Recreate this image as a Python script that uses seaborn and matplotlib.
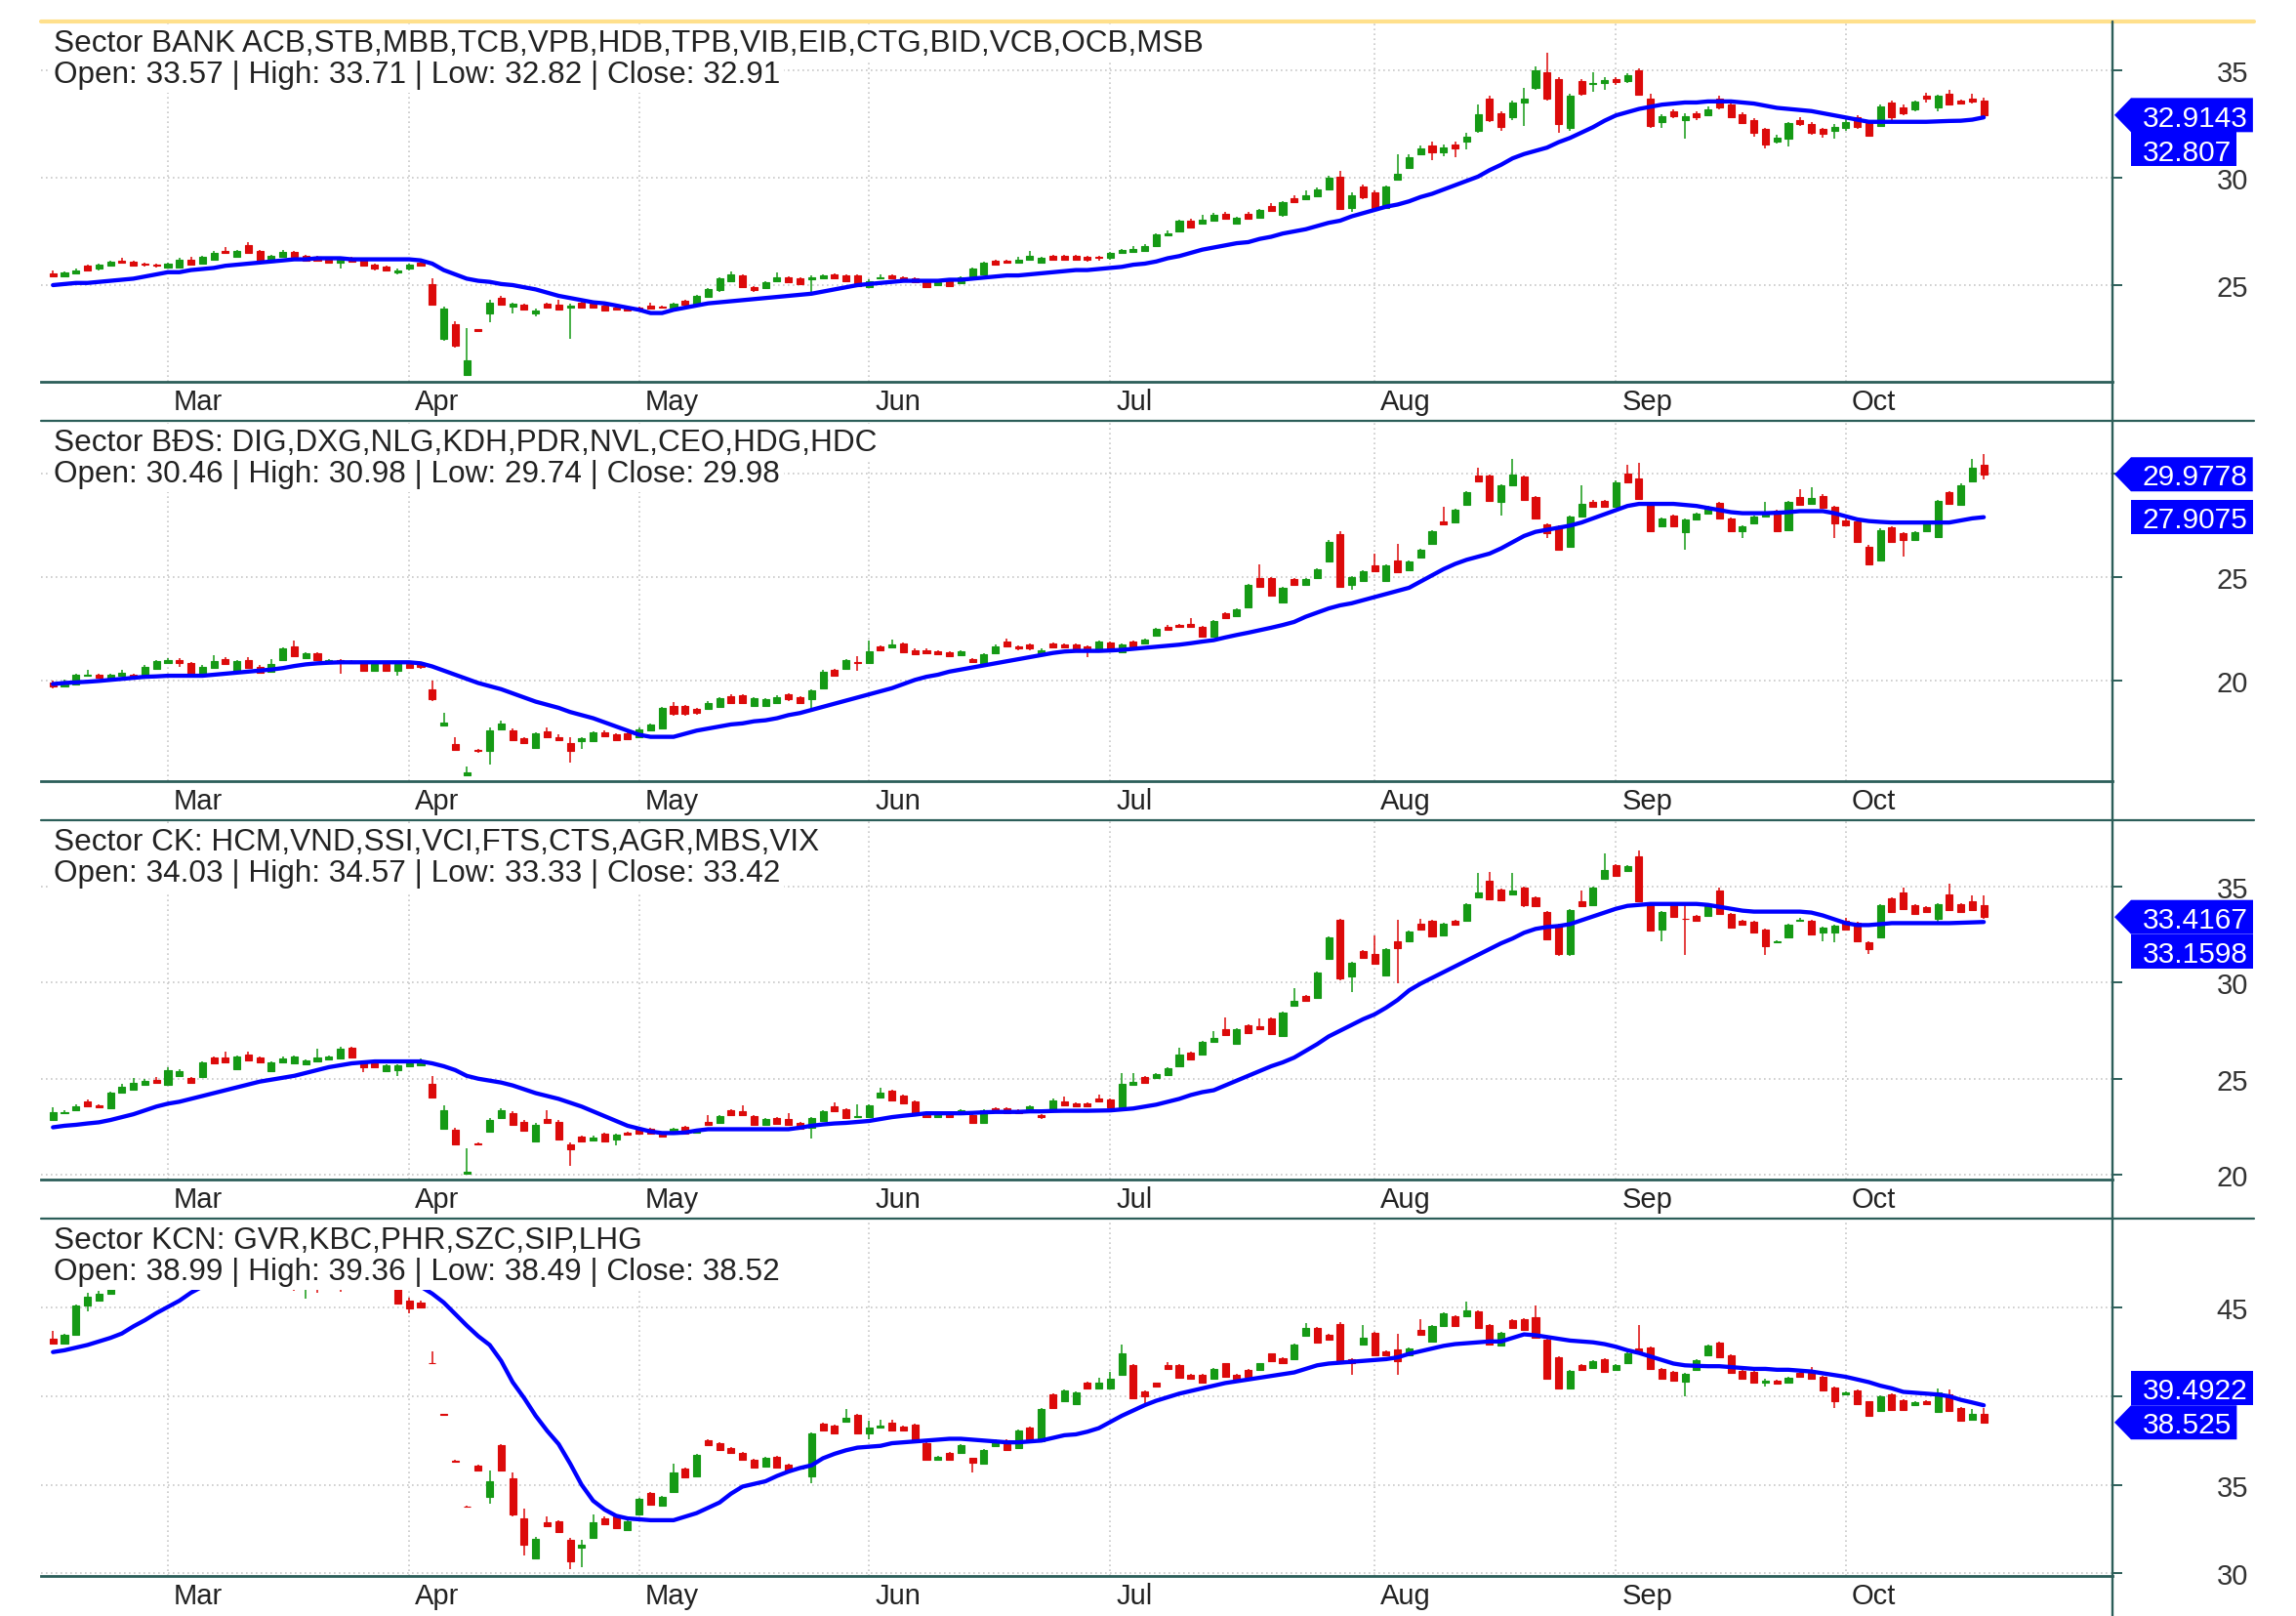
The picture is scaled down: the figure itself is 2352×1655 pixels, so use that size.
import matplotlib
matplotlib.use("Agg")
import matplotlib.pyplot as plt
import matplotlib.transforms as mtransforms
import numpy as np
import seaborn as sns
from matplotlib.lines import Line2D
from matplotlib.patches import Polygon


W, H = 2352, 1656
DPI = 100

MONTH_NAMES = ["Feb", "Mar", "Apr", "May", "Jun", "Jul", "Aug", "Sep", "Oct"]
MONTH_DAYS = [10, 21, 20, 20, 21, 23, 21, 20, 13]

TITLES = [
    "Sector BANK ACB,STB,MBB,TCB,VPB,HDB,TPB,VIB,EIB,CTG,BID,VCB,OCB,MSB",
    "Sector BĐS: DIG,DXG,NLG,KDH,PDR,NVL,CEO,HDG,HDC",
    "Sector CK: HCM,VND,SSI,VCI,FTS,CTS,AGR,MBS,VIX",
    "Sector KCN: GVR,KBC,PHR,SZC,SIP,LHG",
]

# ---- BANK ----
BANK_OPEN = [
    25.55, 25.40, 25.55, 25.90, 25.75, 25.90, 26.15, 26.10, 26.00, 25.95,
    25.80, 25.80, 26.20, 26.00, 26.20, 26.60, 26.30, 26.85, 26.60, 26.10,
    26.30, 26.55, 26.35, 26.30, 26.20, 26.05, 26.25, 26.20, 25.95, 25.85,
    25.60, 25.75, 26.05, 25.05, 22.50, 23.20, 20.80, 22.95, 23.70, 24.40,
    24.00, 24.10, 23.70, 24.15, 24.10, 23.95, 24.20, 24.15, 24.05, 23.95,
    23.95, 23.95, 24.05, 24.00, 23.95, 24.25, 24.10, 24.45, 24.75, 25.20,
    25.45, 24.90, 24.85, 25.20, 25.35, 25.30, 25.25, 25.30, 25.50, 25.45,
    25.45, 24.90, 25.30, 25.45, 25.35, 25.30, 25.15, 25.00, 25.20, 25.10,
    25.30, 25.50, 26.15, 26.15, 26.05, 26.20, 26.05, 26.35, 26.35, 26.35,
    26.30, 26.30, 26.25, 26.50, 26.55, 26.60, 26.80, 27.30, 27.50, 28.00,
    27.85, 28.00, 28.30, 27.85, 28.30, 28.15, 28.70, 28.25, 29.05, 29.00,
    29.15, 29.45, 30.05, 28.60, 29.60, 29.30, 28.60, 29.90, 30.45, 31.10,
    31.50, 31.20, 31.55, 31.70, 32.20, 33.70, 33.00, 32.80, 33.50, 34.20,
    34.90, 34.60, 32.30, 34.50, 34.35, 34.40, 34.60, 34.50, 35.00, 33.70,
    32.60, 33.10, 32.70, 33.00, 32.90, 33.70, 33.40, 32.95, 32.70, 32.25,
    31.70, 31.80, 32.70, 32.50, 32.25, 32.20, 32.30, 32.80, 32.55, 32.40,
    33.50, 33.25, 33.20, 33.80, 33.25, 33.90, 33.60, 33.70, 33.57,
]
BANK_CLOSE = [
    25.40, 25.60, 25.70, 25.70, 25.95, 26.10, 26.05, 25.90, 25.95, 25.90,
    26.00, 26.20, 25.95, 26.30, 26.50, 26.50, 26.60, 26.50, 26.10, 26.35,
    26.55, 26.30, 26.15, 26.15, 26.05, 26.20, 26.10, 25.90, 25.75, 25.70,
    25.70, 25.95, 25.90, 24.10, 23.90, 22.20, 21.50, 22.85, 24.20, 24.10,
    24.15, 23.85, 23.80, 23.95, 23.85, 24.05, 23.95, 23.95, 23.80, 23.85,
    23.80, 23.90, 23.90, 23.95, 24.15, 24.10, 24.50, 24.80, 25.30, 25.50,
    24.90, 24.75, 25.15, 25.35, 25.15, 25.05, 25.35, 25.45, 25.30, 25.20,
    24.95, 25.20, 25.35, 25.30, 25.20, 25.15, 24.90, 25.15, 24.95, 25.35,
    25.75, 26.05, 25.95, 26.05, 26.20, 26.35, 26.25, 26.20, 26.20, 26.20,
    26.20, 26.25, 26.50, 26.65, 26.70, 26.80, 27.35, 27.40, 28.00, 27.70,
    28.05, 28.25, 28.10, 28.15, 28.10, 28.50, 28.45, 28.85, 28.85, 29.20,
    29.45, 30.00, 28.55, 29.20, 29.10, 28.60, 29.60, 30.20, 30.95, 31.35,
    31.20, 31.40, 31.35, 31.90, 32.95, 32.70, 32.35, 33.50, 33.70, 35.00,
    33.70, 32.50, 33.80, 33.90, 34.40, 34.55, 34.45, 34.75, 33.85, 32.40,
    32.85, 32.85, 32.85, 32.80, 33.20, 33.25, 32.80, 32.55, 32.10, 31.55,
    31.85, 32.55, 32.50, 32.10, 32.05, 32.35, 32.60, 32.35, 31.95, 33.30,
    32.80, 33.00, 33.55, 33.70, 33.80, 33.40, 33.45, 33.55, 32.9143,
]
BANK_HIGH = [
    25.70, 25.65, 25.75, 25.95, 26.00, 26.15, 26.25, 26.15, 26.05, 26.00,
    26.05, 26.25, 26.30, 26.35, 26.60, 26.75, 26.65, 27.00, 26.65, 26.40,
    26.65, 26.60, 26.40, 26.35, 26.25, 26.25, 26.30, 26.25, 26.00, 25.90,
    25.75, 26.00, 26.10, 25.30, 24.00, 23.30, 23.00, 22.95, 24.30, 24.50,
    24.20, 24.15, 23.90, 24.20, 24.30, 24.15, 24.25, 24.20, 24.10, 24.00,
    24.00, 24.00, 24.20, 24.05, 24.20, 24.30, 24.55, 24.85, 25.35, 25.65,
    25.50, 24.95, 25.20, 25.60, 25.40, 25.35, 25.45, 25.50, 25.55, 25.50,
    25.50, 25.25, 25.50, 25.50, 25.40, 25.35, 25.20, 25.20, 25.25, 25.40,
    25.80, 26.10, 26.20, 26.20, 26.30, 26.60, 26.30, 26.40, 26.40, 26.40,
    26.35, 26.35, 26.55, 26.70, 26.80, 26.90, 27.40, 27.55, 28.05, 28.10,
    28.25, 28.35, 28.40, 28.20, 28.40, 28.55, 28.80, 28.90, 29.20, 29.40,
    29.55, 30.10, 30.30, 29.30, 29.70, 29.40, 29.65, 31.10, 31.10, 31.50,
    31.70, 31.55, 31.70, 32.10, 33.40, 33.80, 33.10, 33.60, 34.20, 35.20,
    35.80, 34.70, 33.90, 34.60, 34.90, 34.70, 34.70, 34.85, 35.10, 33.90,
    32.95, 33.20, 33.00, 33.10, 33.30, 33.80, 33.50, 33.05, 32.75, 32.30,
    32.00, 32.60, 32.80, 32.60, 32.30, 32.50, 32.75, 32.90, 32.60, 33.40,
    33.60, 33.40, 33.60, 33.95, 33.85, 34.10, 33.65, 33.90, 33.71,
]
BANK_LOW = [
    25.35, 25.35, 25.50, 25.65, 25.70, 25.85, 26.00, 25.85, 25.85, 25.80,
    25.75, 25.75, 25.90, 25.95, 26.15, 26.45, 26.25, 26.45, 26.05, 26.05,
    26.25, 26.25, 26.10, 26.10, 26.00, 25.75, 26.05, 25.85, 25.70, 25.65,
    25.50, 25.70, 25.85, 24.05, 22.40, 22.10, 20.75, 22.85, 23.25, 24.05,
    23.70, 23.80, 23.55, 23.90, 23.80, 22.50, 23.90, 23.90, 23.75, 23.80,
    23.75, 23.85, 23.85, 23.90, 23.90, 24.05, 24.05, 24.40, 24.70, 25.15,
    24.85, 24.70, 24.80, 25.15, 25.10, 25.00, 24.70, 25.25, 25.25, 25.15,
    24.90, 24.85, 25.25, 25.25, 25.15, 25.10, 24.85, 24.95, 24.90, 25.05,
    25.25, 25.45, 25.90, 26.00, 26.00, 26.15, 26.00, 26.15, 26.15, 26.15,
    26.10, 26.15, 26.20, 26.45, 26.50, 26.55, 26.75, 27.25, 27.45, 27.65,
    27.80, 27.95, 28.05, 27.80, 28.05, 28.10, 28.40, 28.20, 28.80, 28.95,
    29.10, 29.40, 28.50, 28.40, 29.00, 28.50, 28.55, 29.85, 30.40, 31.05,
    30.80, 31.00, 30.95, 31.30, 32.10, 32.60, 32.20, 32.70, 32.40, 34.10,
    33.60, 32.10, 32.20, 33.80, 34.00, 34.10, 34.30, 34.40, 33.80, 32.30,
    32.30, 32.75, 31.80, 32.70, 32.85, 33.20, 32.75, 32.50, 31.90, 31.35,
    31.60, 31.45, 32.40, 32.00, 31.85, 31.80, 32.20, 32.25, 31.90, 32.35,
    32.70, 32.90, 33.10, 33.50, 33.10, 33.35, 33.40, 33.45, 32.82,
]
BANK_MA = [
    25.00, 25.05, 25.10, 25.10, 25.15, 25.20, 25.25, 25.30, 25.40, 25.50,
    25.60, 25.60, 25.70, 25.75, 25.80, 25.90, 25.95, 26.00, 26.05, 26.10,
    26.15, 26.20, 26.20, 26.25, 26.25, 26.25, 26.20, 26.20, 26.20, 26.20,
    26.20, 26.20, 26.15, 26.00, 25.70, 25.50, 25.30, 25.20, 25.15, 25.05,
    25.00, 24.90, 24.80, 24.65, 24.50, 24.40, 24.30, 24.20, 24.15, 24.05,
    23.95, 23.85, 23.70, 23.70, 23.85, 23.95, 24.05, 24.15, 24.20, 24.25,
    24.30, 24.35, 24.40, 24.45, 24.50, 24.55, 24.60, 24.70, 24.80, 24.90,
    25.00, 25.05, 25.10, 25.15, 25.20, 25.20, 25.20, 25.20, 25.25, 25.25,
    25.30, 25.35, 25.40, 25.45, 25.45, 25.50, 25.55, 25.60, 25.65, 25.70,
    25.70, 25.75, 25.80, 25.85, 25.95, 26.00, 26.10, 26.25, 26.35, 26.50,
    26.65, 26.75, 26.85, 26.95, 27.00, 27.15, 27.25, 27.40, 27.50, 27.60,
    27.75, 27.90, 28.00, 28.20, 28.35, 28.50, 28.65, 28.75, 28.90, 29.10,
    29.25, 29.45, 29.65, 29.85, 30.05, 30.35, 30.60, 30.90, 31.10, 31.25,
    31.40, 31.65, 31.85, 32.10, 32.35, 32.65, 32.90, 33.05, 33.20, 33.30,
    33.40, 33.45, 33.50, 33.50, 33.55, 33.55, 33.55, 33.50, 33.45, 33.35,
    33.25, 33.20, 33.15, 33.10, 33.00, 32.90, 32.80, 32.70, 32.60, 32.60,
    32.60, 32.60, 32.60, 32.60, 32.62, 32.64, 32.65, 32.70, 32.807,
]

# ---- BDS ----
BDS_OPEN = [
    19.90, 19.75, 19.85, 20.25, 20.30, 20.10, 20.25, 20.30, 20.15, 20.60,
    20.85, 21.00, 20.85, 20.30, 20.65, 21.05, 20.50, 21.00, 20.70, 20.45,
    21.00, 21.65, 21.10, 21.35, 20.85, 21.00, 20.95, 20.85, 20.50, 20.80,
    20.50, 20.80, 20.85, 19.60, 17.85, 16.95, 15.45, 16.65, 16.60, 17.65,
    17.60, 17.25, 16.75, 17.55, 17.30, 17.00, 17.10, 17.10, 17.50, 17.40,
    17.45, 17.30, 17.60, 17.70, 18.80, 18.80, 18.65, 18.65, 18.75, 19.25,
    19.30, 18.80, 18.80, 18.95, 19.35, 19.20, 19.10, 19.65, 20.55, 20.60,
    20.90, 20.85, 21.65, 21.60, 21.80, 21.50, 21.50, 21.45, 21.40, 21.25,
    21.05, 20.75, 21.35, 21.90, 21.65, 21.75, 21.35, 21.80, 21.75, 21.75,
    21.65, 21.45, 21.85, 21.40, 21.90, 21.80, 22.20, 22.60, 22.70, 22.75,
    22.60, 22.15, 23.25, 23.15, 23.55, 24.95, 24.95, 23.80, 24.90, 24.65,
    24.95, 25.75, 27.10, 24.65, 24.85, 25.60, 24.85, 25.80, 25.35, 25.95,
    26.60, 27.70, 27.65, 28.50, 29.90, 29.90, 28.65, 29.45, 29.85, 28.90,
    27.55, 27.45, 26.50, 27.95, 28.65, 28.70, 28.40, 30.00, 29.80, 28.60,
    27.45, 28.00, 27.20, 27.80, 28.10, 28.60, 27.85, 27.25, 27.60, 27.95,
    28.20, 27.30, 28.90, 28.55, 28.95, 28.40, 27.75, 27.70, 26.50, 25.80,
    27.40, 27.15, 26.80, 27.25, 26.95, 29.10, 28.50, 29.65, 30.46,
]
BDS_CLOSE = [
    19.75, 19.99, 20.30, 20.32, 20.15, 20.30, 20.40, 20.12, 20.70, 20.95,
    21.00, 20.85, 20.30, 20.70, 20.95, 20.80, 20.95, 20.65, 20.40, 20.80,
    21.55, 21.20, 21.35, 21.00, 21.00, 20.85, 20.88, 20.50, 20.80, 20.50,
    20.80, 20.65, 20.70, 19.10, 18.00, 16.65, 15.60, 16.60, 17.60, 17.95,
    17.15, 17.00, 17.45, 17.30, 17.15, 16.60, 17.25, 17.50, 17.35, 17.15,
    17.20, 17.65, 17.90, 18.70, 18.40, 18.40, 18.45, 18.95, 19.15, 18.95,
    18.95, 19.15, 19.10, 19.20, 19.10, 18.95, 19.55, 20.45, 20.25, 21.00,
    20.85, 21.45, 21.50, 21.75, 21.40, 21.30, 21.35, 21.30, 21.20, 21.45,
    20.90, 21.30, 21.65, 21.65, 21.55, 21.55, 21.50, 21.60, 21.60, 21.45,
    21.50, 21.90, 21.50, 21.75, 21.65, 22.00, 22.50, 22.45, 22.60, 22.60,
    22.15, 22.90, 23.05, 23.45, 24.65, 24.55, 24.10, 24.50, 24.65, 24.90,
    25.40, 26.70, 24.55, 25.00, 25.30, 25.30, 25.60, 25.25, 25.75, 26.35,
    27.25, 27.55, 28.25, 29.10, 29.65, 28.70, 29.45, 29.95, 28.75, 27.85,
    27.15, 26.35, 27.95, 28.55, 28.40, 28.40, 29.60, 29.60, 28.80, 27.25,
    27.85, 27.45, 27.80, 28.10, 28.40, 27.85, 27.25, 27.45, 27.95, 28.10,
    27.25, 28.65, 28.50, 28.85, 28.35, 27.60, 27.50, 26.70, 25.65, 27.30,
    26.70, 26.80, 27.20, 27.65, 28.70, 28.55, 29.45, 30.30, 29.9778,
]
BDS_HIGH = [
    20.00, 20.05, 20.35, 20.55, 20.35, 20.35, 20.55, 20.35, 20.75, 21.00,
    21.10, 21.10, 20.90, 20.75, 21.25, 21.15, 21.00, 21.15, 20.75, 21.05,
    21.60, 21.95, 21.40, 21.40, 21.05, 21.05, 21.00, 20.90, 20.85, 20.85,
    20.85, 20.85, 20.90, 20.00, 18.45, 17.30, 15.85, 16.70, 17.75, 18.10,
    17.70, 17.30, 17.50, 17.75, 17.40, 17.30, 17.30, 17.55, 17.60, 17.45,
    17.55, 17.75, 17.95, 18.75, 19.00, 18.85, 18.70, 19.05, 19.20, 19.35,
    19.35, 19.20, 19.15, 19.30, 19.40, 19.25, 19.60, 20.55, 20.60, 21.05,
    21.20, 21.95, 21.70, 22.00, 21.85, 21.55, 21.55, 21.50, 21.45, 21.50,
    21.10, 21.35, 21.75, 22.05, 21.70, 21.80, 21.55, 21.85, 21.80, 21.80,
    21.70, 21.95, 21.90, 21.80, 21.95, 22.05, 22.55, 22.70, 22.75, 23.05,
    22.65, 22.95, 23.30, 23.50, 24.70, 25.65, 25.00, 24.55, 24.95, 24.95,
    25.45, 26.80, 27.25, 25.05, 25.35, 26.15, 25.65, 26.60, 25.80, 26.40,
    27.30, 28.40, 28.30, 29.15, 30.30, 29.95, 29.50, 30.70, 29.90, 28.95,
    27.60, 27.50, 28.00, 29.45, 28.75, 28.75, 29.70, 30.45, 30.55, 28.65,
    27.90, 28.05, 27.85, 28.15, 28.45, 28.65, 27.90, 27.50, 28.00, 28.65,
    28.25, 28.70, 29.25, 29.35, 29.00, 28.45, 27.85, 27.75, 26.55, 27.35,
    27.45, 27.20, 27.25, 27.70, 28.75, 29.15, 29.55, 30.70, 30.98,
]
BDS_LOW = [
    19.65, 19.70, 19.80, 20.20, 20.10, 20.05, 20.20, 20.05, 20.10, 20.55,
    20.80, 20.70, 20.25, 20.25, 20.60, 20.75, 20.45, 20.60, 20.35, 20.40,
    20.95, 21.15, 21.05, 20.95, 20.80, 20.35, 20.80, 20.45, 20.45, 20.45,
    20.25, 20.60, 20.60, 19.05, 17.80, 16.60, 15.40, 16.55, 15.95, 17.60,
    17.10, 16.95, 16.70, 17.25, 17.10, 16.05, 16.70, 17.05, 17.30, 17.10,
    17.15, 17.25, 17.55, 17.65, 18.30, 18.30, 18.35, 18.60, 18.70, 18.90,
    18.90, 18.75, 18.75, 18.90, 19.05, 18.90, 18.50, 19.60, 20.20, 20.55,
    20.50, 20.80, 21.45, 21.55, 21.35, 21.25, 21.30, 21.25, 21.15, 21.20,
    20.85, 20.70, 21.30, 21.60, 21.50, 21.50, 21.30, 21.55, 21.55, 21.40,
    21.15, 21.40, 21.45, 21.35, 21.60, 21.75, 22.15, 22.40, 22.55, 22.55,
    22.10, 22.10, 23.00, 23.10, 23.50, 24.50, 24.05, 23.75, 24.60, 24.60,
    24.90, 25.70, 24.50, 24.40, 24.80, 25.25, 24.80, 25.20, 25.30, 25.90,
    26.55, 27.50, 27.60, 28.45, 29.60, 28.65, 28.00, 29.40, 28.70, 27.80,
    26.90, 26.30, 26.45, 27.90, 28.35, 28.35, 28.35, 29.55, 28.75, 27.20,
    27.40, 27.40, 26.35, 27.75, 28.05, 27.80, 27.20, 26.90, 27.55, 27.90,
    27.20, 27.25, 28.45, 28.50, 28.30, 26.90, 27.45, 26.65, 25.60, 25.75,
    26.65, 26.00, 26.75, 27.20, 26.90, 28.50, 28.45, 29.60, 29.74,
]
BDS_MA = [
    19.85, 19.90, 19.93, 19.96, 20.00, 20.05, 20.10, 20.15, 20.20, 20.22,
    20.25, 20.25, 20.25, 20.25, 20.30, 20.35, 20.40, 20.45, 20.50, 20.55,
    20.62, 20.72, 20.80, 20.85, 20.88, 20.90, 20.90, 20.90, 20.90, 20.90,
    20.90, 20.90, 20.85, 20.70, 20.50, 20.30, 20.10, 19.90, 19.75, 19.60,
    19.40, 19.20, 19.00, 18.85, 18.70, 18.50, 18.35, 18.20, 18.00, 17.80,
    17.60, 17.40, 17.30, 17.30, 17.30, 17.45, 17.60, 17.70, 17.80, 17.90,
    17.95, 18.05, 18.10, 18.20, 18.35, 18.45, 18.60, 18.75, 18.90, 19.05,
    19.20, 19.35, 19.50, 19.65, 19.85, 20.05, 20.20, 20.30, 20.45, 20.55,
    20.65, 20.75, 20.85, 20.95, 21.05, 21.15, 21.25, 21.35, 21.42, 21.45,
    21.45, 21.45, 21.47, 21.50, 21.55, 21.60, 21.65, 21.70, 21.75, 21.82,
    21.90, 21.97, 22.10, 22.22, 22.33, 22.45, 22.57, 22.70, 22.85, 23.10,
    23.30, 23.50, 23.65, 23.75, 23.90, 24.05, 24.20, 24.35, 24.50, 24.80,
    25.10, 25.40, 25.65, 25.85, 26.00, 26.15, 26.40, 26.70, 27.00, 27.20,
    27.30, 27.40, 27.50, 27.65, 27.85, 28.05, 28.25, 28.45, 28.55, 28.55,
    28.55, 28.55, 28.50, 28.45, 28.35, 28.25, 28.15, 28.10, 28.10, 28.10,
    28.12, 28.15, 28.20, 28.20, 28.20, 28.10, 27.95, 27.80, 27.72, 27.68,
    27.65, 27.65, 27.65, 27.65, 27.65, 27.65, 27.75, 27.85, 27.9075,
]

# ---- CK ----
CK_OPEN = [
    22.85, 23.20, 23.35, 23.80, 23.60, 23.45, 24.30, 24.45, 24.70, 24.95,
    24.70, 25.15, 25.05, 25.10, 26.10, 26.10, 25.50, 26.25, 26.10, 25.40,
    25.85, 25.80, 25.75, 25.90, 26.00, 26.05, 26.60, 25.90, 25.80, 25.40,
    25.45, 25.65, 25.70, 24.75, 22.40, 22.35, 20.05, 21.65, 22.25, 22.95,
    23.20, 22.75, 21.75, 22.90, 22.75, 21.60, 22.00, 21.80, 22.15, 21.85,
    22.20, 22.35, 22.40, 22.20, 22.15, 22.50, 22.20, 22.75, 22.70, 23.35,
    23.30, 23.05, 22.60, 22.95, 22.90, 22.70, 22.45, 22.80, 23.55, 23.40,
    23.00, 23.00, 24.00, 24.40, 24.10, 23.80, 23.25, 23.00, 23.15, 23.15,
    23.10, 22.70, 23.45, 23.45, 23.35, 23.30, 23.10, 23.35, 23.80, 23.70,
    23.70, 23.95, 23.90, 23.50, 24.70, 25.10, 25.05, 25.20, 25.65, 26.35,
    26.25, 26.90, 27.60, 26.80, 27.80, 27.75, 28.15, 27.20, 28.80, 29.30,
    29.20, 31.25, 33.25, 30.30, 31.65, 31.50, 30.40, 32.15, 32.15, 33.05,
    33.20, 32.45, 33.20, 33.20, 34.45, 35.30, 34.85, 34.60, 34.95, 34.45,
    33.70, 33.00, 31.50, 34.25, 34.05, 35.40, 36.10, 35.80, 36.60, 34.10,
    32.75, 34.10, 33.35, 33.50, 33.50, 34.80, 33.60, 33.20, 33.15, 32.75,
    32.10, 32.35, 33.20, 33.20, 32.60, 32.60, 33.20, 33.10, 32.10, 32.35,
    34.40, 34.70, 34.05, 33.95, 33.35, 34.60, 34.10, 34.25, 34.03,
]
CK_CLOSE = [
    23.27, 23.27, 23.55, 23.55, 23.50, 24.30, 24.60, 24.80, 24.90, 24.80,
    25.45, 25.40, 24.80, 25.85, 25.80, 25.85, 26.15, 25.95, 25.85, 25.85,
    26.05, 26.15, 25.95, 26.10, 26.15, 26.55, 26.10, 25.60, 25.60, 25.70,
    25.70, 25.80, 25.95, 24.00, 23.35, 21.60, 20.17, 21.60, 22.85, 23.35,
    22.60, 22.30, 22.60, 22.70, 21.85, 21.35, 21.75, 21.95, 21.75, 22.10,
    22.10, 22.15, 22.15, 22.00, 22.40, 22.15, 22.35, 22.60, 23.05, 23.10,
    23.10, 22.60, 22.90, 22.65, 22.60, 22.40, 22.95, 23.30, 23.30, 22.95,
    23.05, 23.60, 24.25, 23.85, 23.70, 23.15, 23.00, 23.15, 23.00, 23.35,
    22.70, 23.35, 23.30, 23.20, 23.20, 23.55, 23.00, 23.85, 23.60, 23.55,
    23.55, 23.80, 23.50, 24.75, 24.85, 24.80, 25.25, 25.55, 26.25, 26.00,
    26.90, 27.10, 27.30, 27.60, 27.40, 27.60, 27.35, 28.45, 29.05, 29.05,
    30.55, 32.35, 30.20, 31.05, 31.30, 31.00, 31.75, 31.80, 32.65, 32.75,
    32.40, 33.05, 33.00, 34.10, 34.70, 34.35, 34.30, 34.80, 34.05, 34.00,
    32.25, 31.50, 33.80, 34.00, 34.95, 35.85, 35.55, 36.05, 34.25, 32.70,
    33.70, 33.45, 33.30, 33.20, 34.10, 33.60, 32.85, 33.00, 32.60, 31.90,
    32.15, 33.00, 33.25, 32.50, 32.85, 32.95, 32.75, 32.15, 31.75, 34.05,
    33.70, 33.85, 33.60, 33.70, 34.10, 33.80, 33.70, 33.80, 33.4167,
]
CK_HIGH = [
    23.50, 23.35, 23.65, 23.90, 23.65, 24.35, 24.75, 25.05, 25.00, 25.10,
    25.60, 25.50, 25.10, 25.90, 26.15, 26.40, 26.20, 26.40, 26.15, 25.90,
    26.15, 26.20, 26.00, 26.55, 26.20, 26.65, 26.65, 25.95, 25.85, 25.75,
    25.75, 25.85, 26.05, 25.15, 23.60, 22.45, 21.40, 21.70, 22.95, 23.45,
    23.30, 22.85, 22.70, 23.35, 22.85, 21.70, 22.05, 22.05, 22.20, 22.15,
    22.25, 22.45, 22.45, 22.25, 22.45, 22.55, 22.40, 23.10, 23.10, 23.40,
    23.60, 23.10, 22.95, 23.00, 23.20, 22.75, 23.00, 23.35, 23.75, 23.45,
    23.65, 23.65, 24.55, 24.45, 24.15, 23.85, 23.30, 23.20, 23.20, 23.40,
    23.15, 23.40, 23.50, 23.50, 23.40, 23.60, 23.15, 23.95, 24.05, 23.75,
    23.75, 24.15, 23.95, 25.30, 25.30, 25.15, 25.30, 25.60, 26.60, 26.40,
    26.95, 27.50, 28.20, 27.65, 27.85, 28.15, 28.20, 28.50, 29.70, 29.35,
    30.60, 32.40, 33.35, 31.10, 31.70, 32.45, 31.80, 33.25, 32.70, 33.35,
    33.25, 33.10, 33.25, 34.15, 35.70, 35.75, 34.90, 35.70, 35.00, 34.50,
    33.75, 33.05, 33.85, 34.80, 35.00, 36.75, 36.15, 36.10, 36.90, 34.15,
    33.75, 34.15, 34.10, 33.55, 34.15, 34.95, 33.65, 33.25, 33.20, 32.80,
    32.20, 33.05, 33.40, 33.25, 32.90, 33.00, 33.40, 33.15, 32.15, 34.10,
    34.45, 34.95, 34.10, 34.00, 34.15, 35.15, 34.15, 34.55, 34.57,
]
CK_LOW = [
    22.80, 23.15, 23.30, 23.50, 23.45, 23.40, 24.25, 24.40, 24.65, 24.75,
    24.65, 25.10, 24.75, 25.05, 25.75, 25.80, 25.45, 25.90, 25.80, 25.35,
    25.80, 25.75, 25.70, 25.85, 25.95, 26.00, 26.05, 25.35, 25.55, 25.35,
    25.15, 25.60, 25.65, 23.95, 22.35, 21.55, 20.00, 21.55, 22.20, 22.90,
    22.55, 22.25, 21.70, 22.65, 21.80, 20.45, 21.70, 21.75, 21.70, 21.55,
    22.05, 22.10, 22.10, 21.95, 22.10, 22.10, 22.15, 22.55, 22.65, 23.05,
    23.05, 22.55, 22.55, 22.60, 22.55, 22.35, 21.90, 22.75, 23.25, 22.90,
    22.95, 22.95, 23.95, 23.80, 23.65, 23.10, 22.95, 22.95, 22.95, 23.10,
    22.65, 22.65, 23.25, 23.15, 23.15, 23.25, 22.90, 23.30, 23.55, 23.50,
    23.50, 23.75, 23.45, 23.45, 24.65, 24.75, 25.00, 25.15, 25.60, 25.95,
    26.20, 26.85, 27.25, 26.75, 27.35, 27.55, 27.30, 27.15, 28.75, 29.00,
    29.15, 31.20, 30.10, 29.50, 31.25, 30.95, 30.35, 29.95, 32.10, 32.70,
    32.35, 32.40, 32.95, 33.15, 34.40, 34.30, 34.25, 34.55, 33.95, 33.95,
    32.20, 31.40, 31.40, 33.95, 34.00, 35.35, 35.50, 35.75, 34.20, 32.65,
    32.15, 33.40, 31.45, 33.15, 33.45, 33.55, 32.80, 32.95, 32.55, 31.45,
    32.05, 32.30, 33.15, 32.45, 32.15, 32.10, 32.70, 32.10, 31.50, 32.30,
    33.65, 33.80, 33.55, 33.65, 33.10, 33.75, 33.65, 33.75, 33.33,
]
CK_MA = [
    22.47, 22.55, 22.60, 22.67, 22.73, 22.85, 23.00, 23.15, 23.35, 23.55,
    23.70, 23.80, 23.95, 24.10, 24.25, 24.40, 24.55, 24.70, 24.85, 24.95,
    25.05, 25.15, 25.30, 25.45, 25.60, 25.70, 25.80, 25.85, 25.90, 25.90,
    25.90, 25.90, 25.90, 25.80, 25.65, 25.45, 25.15, 25.00, 24.90, 24.80,
    24.65, 24.45, 24.25, 24.10, 23.95, 23.75, 23.55, 23.30, 23.05, 22.80,
    22.55, 22.40, 22.25, 22.17, 22.17, 22.20, 22.30, 22.37, 22.37, 22.37,
    22.37, 22.37, 22.37, 22.37, 22.37, 22.45, 22.55, 22.62, 22.67, 22.70,
    22.75, 22.80, 22.90, 23.00, 23.07, 23.13, 23.20, 23.20, 23.20, 23.20,
    23.22, 23.25, 23.27, 23.27, 23.27, 23.30, 23.30, 23.32, 23.33, 23.33,
    23.33, 23.34, 23.35, 23.40, 23.45, 23.55, 23.65, 23.80, 23.95, 24.15,
    24.30, 24.40, 24.65, 24.90, 25.15, 25.40, 25.65, 25.85, 26.10, 26.45,
    26.80, 27.20, 27.50, 27.80, 28.10, 28.35, 28.70, 29.10, 29.60, 29.95,
    30.25, 30.55, 30.85, 31.15, 31.45, 31.75, 32.05, 32.30, 32.60, 32.80,
    32.90, 32.95, 33.05, 33.25, 33.45, 33.65, 33.85, 34.00, 34.05, 34.10,
    34.10, 34.10, 34.10, 34.10, 34.05, 33.95, 33.85, 33.75, 33.70, 33.70,
    33.70, 33.70, 33.70, 33.65, 33.50, 33.30, 33.10, 33.00, 33.00, 33.05,
    33.10, 33.10, 33.10, 33.10, 33.10, 33.10, 33.12, 33.14, 33.1598,
]

# ---- KCN ----
KCN_OPEN = [
    43.25, 43.00, 43.50, 45.15, 45.40, 45.80, 46.30, 46.80, 47.20, 47.00,
    47.50, 47.80, 47.40, 47.90, 48.20, 47.80, 48.10, 47.70, 47.30, 47.60,
    47.00, 46.30, 46.30, 46.60, 46.40, 46.70, 46.40, 46.90, 47.00, 46.60,
    46.10, 45.40, 45.30, 41.90, 38.98, 36.35, 33.78, 36.10, 34.30, 37.25,
    35.35, 33.10, 30.85, 32.90, 32.95, 31.90, 31.45, 32.00, 33.10, 33.20,
    32.45, 33.30, 34.55, 33.80, 34.60, 35.90, 35.50, 37.50, 37.35, 37.10,
    36.80, 36.40, 36.05, 36.60, 36.15, 35.90, 35.45, 38.45, 38.35, 38.55,
    38.95, 37.90, 38.25, 38.50, 38.30, 38.40, 37.35, 36.40, 36.80, 36.80,
    36.50, 36.20, 37.20, 37.50, 37.05, 38.25, 37.45, 40.10, 39.70, 39.55,
    40.80, 40.45, 40.45, 41.20, 41.75, 40.30, 40.75, 41.75, 41.75, 41.20,
    41.20, 41.00, 41.85, 41.20, 41.50, 41.50, 42.40, 42.15, 42.10, 43.40,
    43.85, 43.50, 44.10, 42.10, 42.95, 43.60, 42.55, 42.65, 42.30, 43.75,
    43.10, 43.95, 44.55, 44.50, 44.80, 44.05, 42.85, 44.30, 44.35, 44.45,
    43.20, 42.20, 40.45, 41.75, 41.60, 42.10, 41.50, 41.90, 42.70, 42.75,
    41.55, 41.40, 40.85, 41.50, 42.30, 43.05, 42.30, 41.45, 41.40, 40.80,
    40.90, 40.80, 41.35, 41.30, 41.10, 40.50, 40.10, 40.35, 39.70, 39.15,
    40.10, 39.80, 39.50, 39.75, 39.10, 40.10, 39.35, 38.65, 38.99,
]
KCN_CLOSE = [
    43.00, 43.50, 45.15, 45.60, 45.80, 46.30, 46.80, 47.20, 47.00, 47.50,
    47.80, 47.40, 47.90, 48.20, 47.80, 48.10, 47.70, 47.30, 47.60, 47.00,
    46.60, 46.20, 46.60, 46.30, 46.70, 46.30, 46.90, 47.10, 46.60, 46.40,
    45.25, 44.95, 45.00, 41.85, 38.95, 36.30, 33.75, 35.80, 35.20, 35.80,
    33.30, 31.60, 31.95, 32.65, 32.35, 30.70, 31.60, 32.90, 32.80, 32.55,
    32.95, 34.20, 33.85, 34.30, 35.70, 35.40, 36.70, 37.25, 36.95, 36.80,
    36.40, 35.95, 36.55, 35.95, 35.80, 36.00, 37.90, 38.05, 37.90, 38.80,
    37.90, 38.25, 38.35, 38.05, 38.05, 37.50, 36.40, 36.60, 36.40, 37.25,
    36.25, 36.95, 37.50, 36.95, 38.05, 37.60, 39.30, 39.35, 40.35, 40.20,
    40.45, 40.75, 41.00, 42.40, 39.90, 40.00, 40.55, 41.55, 41.05, 41.00,
    40.75, 41.55, 41.10, 41.00, 41.10, 41.85, 42.00, 41.85, 42.95, 43.85,
    43.05, 43.20, 41.90, 41.85, 43.30, 42.30, 42.30, 42.00, 42.70, 43.50,
    43.95, 44.70, 43.95, 44.85, 43.85, 42.90, 43.60, 43.85, 43.75, 43.30,
    41.00, 40.45, 41.45, 41.50, 42.00, 41.40, 41.75, 42.45, 42.50, 41.55,
    41.00, 40.90, 41.25, 42.05, 42.85, 42.20, 41.30, 41.00, 40.75, 40.90,
    40.70, 41.05, 41.10, 41.00, 40.35, 39.70, 40.20, 39.55, 38.90, 40.00,
    39.25, 39.25, 39.65, 39.55, 40.20, 39.20, 38.60, 39.00, 38.525,
]
KCN_HIGH = [
    43.70, 43.55, 45.20, 45.85, 45.95, 46.50, 47.00, 47.40, 47.40, 47.70,
    48.00, 48.00, 48.10, 48.40, 48.40, 48.30, 48.30, 47.90, 47.80, 47.80,
    47.20, 46.40, 46.80, 46.70, 46.90, 46.80, 47.10, 47.30, 47.20, 46.80,
    46.30, 45.55, 45.40, 42.55, 39.00, 36.40, 33.80, 36.15, 35.80, 37.30,
    35.70, 33.65, 32.05, 33.20, 33.00, 32.00, 31.90, 33.35, 33.20, 33.25,
    33.00, 34.25, 34.60, 34.35, 36.20, 35.95, 36.75, 37.60, 37.40, 37.15,
    36.85, 36.45, 36.60, 36.65, 36.20, 36.05, 37.95, 38.50, 38.40, 39.30,
    39.00, 38.60, 38.65, 38.70, 38.35, 38.45, 37.40, 36.65, 36.85, 37.30,
    36.55, 37.00, 37.55, 37.55, 38.10, 38.30, 39.35, 40.15, 40.40, 40.25,
    40.85, 41.05, 41.40, 42.90, 41.80, 40.35, 40.80, 41.95, 41.80, 41.25,
    41.25, 41.60, 41.90, 41.25, 41.55, 41.90, 42.35, 42.20, 43.00, 44.15,
    43.90, 43.55, 44.20, 42.15, 44.05, 43.65, 42.60, 43.55, 42.75, 44.35,
    44.00, 44.75, 44.60, 45.35, 44.85, 44.10, 43.65, 44.35, 44.40, 45.15,
    43.25, 42.25, 41.50, 41.80, 42.05, 42.15, 41.80, 42.50, 44.00, 42.80,
    41.60, 41.45, 41.30, 42.10, 42.90, 43.10, 42.35, 41.50, 41.45, 41.00,
    40.95, 41.10, 41.40, 41.65, 41.15, 40.55, 40.25, 40.40, 39.75, 40.05,
    40.15, 39.85, 39.70, 39.80, 40.45, 40.40, 39.40, 39.30, 39.36,
]
KCN_LOW = [
    42.95, 42.95, 43.45, 44.80, 45.35, 45.75, 46.20, 46.70, 46.90, 46.90,
    47.40, 47.30, 47.30, 47.80, 47.70, 47.70, 47.60, 47.20, 47.20, 46.90,
    46.50, 45.98, 45.50, 45.85, 46.20, 45.90, 46.30, 46.80, 46.50, 46.20,
    45.20, 44.70, 44.95, 41.85, 38.92, 36.25, 33.70, 35.75, 33.95, 35.75,
    33.20, 31.00, 30.80, 32.60, 32.30, 30.25, 30.35, 32.85, 32.75, 32.50,
    32.40, 33.25, 33.80, 33.75, 34.55, 35.35, 35.45, 37.20, 36.90, 36.75,
    36.35, 35.90, 35.95, 35.90, 35.75, 35.85, 35.10, 38.00, 37.85, 38.50,
    37.85, 37.60, 38.20, 38.00, 38.00, 37.45, 36.35, 36.35, 36.35, 36.75,
    35.70, 36.15, 37.15, 36.90, 37.00, 37.55, 37.40, 39.30, 39.65, 39.50,
    40.40, 40.40, 40.40, 41.15, 39.85, 39.55, 40.50, 41.50, 41.00, 40.95,
    40.70, 40.95, 41.05, 40.95, 41.05, 41.45, 41.95, 41.80, 42.05, 43.35,
    43.00, 43.15, 41.85, 41.20, 42.90, 42.25, 42.25, 41.20, 42.25, 43.45,
    43.05, 43.90, 43.90, 44.45, 43.80, 42.85, 42.80, 43.80, 43.70, 43.25,
    40.95, 40.40, 40.40, 41.45, 41.55, 41.35, 41.45, 41.85, 42.45, 41.50,
    40.95, 40.85, 40.00, 41.45, 42.25, 42.15, 41.25, 40.95, 40.70, 40.55,
    40.65, 40.75, 41.05, 40.95, 40.30, 39.35, 40.05, 39.50, 38.85, 39.10,
    39.20, 39.20, 39.45, 39.50, 39.05, 39.15, 38.55, 38.60, 38.49,
]
KCN_MA = [
    42.50, 42.60, 42.75, 42.90, 43.10, 43.30, 43.55, 43.95, 44.30, 44.70,
    45.05, 45.40, 45.85, 46.20, 46.50, 46.80, 47.00, 47.20, 47.35, 47.50,
    47.60, 47.65, 47.70, 47.70, 47.65, 47.60, 47.50, 47.40, 47.20, 47.00,
    46.75, 46.50, 46.20, 45.80, 45.30, 44.65, 44.00, 43.40, 42.90, 42.00,
    40.80, 39.90, 38.90, 38.05, 37.30, 36.20, 35.00, 34.10, 33.60, 33.25,
    33.10, 33.05, 33.00, 33.00, 33.00, 33.20, 33.40, 33.70, 34.00, 34.50,
    34.90, 35.05, 35.20, 35.50, 35.75, 35.95, 36.10, 36.50, 36.75, 36.95,
    37.10, 37.15, 37.20, 37.35, 37.40, 37.45, 37.50, 37.55, 37.60, 37.60,
    37.55, 37.50, 37.45, 37.40, 37.40, 37.45, 37.50, 37.65, 37.80, 37.85,
    38.00, 38.20, 38.55, 38.90, 39.20, 39.50, 39.75, 39.95, 40.15, 40.30,
    40.45, 40.60, 40.75, 40.85, 40.95, 41.05, 41.15, 41.25, 41.35, 41.55,
    41.75, 41.85, 41.90, 41.95, 42.00, 42.05, 42.10, 42.20, 42.40, 42.55,
    42.70, 42.85, 42.95, 43.00, 43.05, 43.10, 43.10, 43.30, 43.50, 43.45,
    43.35, 43.25, 43.15, 43.10, 43.05, 42.95, 42.80, 42.60, 42.45, 42.25,
    42.05, 41.85, 41.75, 41.72, 41.70, 41.70, 41.65, 41.60, 41.55, 41.55,
    41.50, 41.50, 41.45, 41.40, 41.30, 41.20, 41.10, 40.95, 40.80, 40.60,
    40.45, 40.25, 40.20, 40.15, 40.10, 40.00, 39.80, 39.65, 39.4922,
]

# layout, in pixels of the 2352x1656 canvas
PANEL_TOPS = [23, 432, 841, 1249]
PANEL_BOTTOMS = [392, 801, 1209, 1615]
PLOT_LEFT, PLOT_RIGHT, PANE_RIGHT = 42, 2164, 2309
YLIMS = [(20.50, 37.27), (15.16, 32.56), (19.75, 38.46), (29.85, 50.04)]
XLIM = (-1.04, 179.2)

GREEN = "#159a15"
RED = "#dc0a0a"
BLUE = "#0000ff"
TEAL = "#2c5e59"
ORANGE = "#ffe08c"
BOX_H = 35


def fig_xy(xp, yp):
    return xp / W, 1 - yp / H


def draw_panel(fig, k, title, o, hi, lo, c, ma):
    top, bot = PANEL_TOPS[k], PANEL_BOTTOMS[k]
    ax = fig.add_axes([PLOT_LEFT / W, 1 - bot / H, (PLOT_RIGHT - PLOT_LEFT) / W, (bot - top) / H])
    o, hi, lo, c, ma = map(np.asarray, (o, hi, lo, c, ma))
    x = np.arange(len(c))
    colors = np.where(c >= o, GREEN, RED)

    ax.vlines(x, lo, hi, colors=colors, linewidth=1.1, zorder=2)
    ax.bar(x, np.abs(c - o), bottom=np.minimum(o, c), width=0.6, color=colors,
           edgecolor=colors, linewidth=0.8, zorder=3)
    sns.lineplot(x=x, y=ma, ax=ax, color=BLUE, linewidth=3.1, zorder=4)

    ax.set_xlim(*XLIM)
    ylo, yhi = YLIMS[k]
    ax.set_ylim(ylo, yhi)
    ax.set_xlabel("")
    ax.set_ylabel("")

    def ypx(v):
        return top + (yhi - v) / (yhi - ylo) * (bot - top)

    # month ticks
    starts = np.cumsum([0] + MONTH_DAYS[:-1])
    ax.set_xticks(starts[1:])
    ax.set_xticklabels(MONTH_NAMES[1:])
    ax.tick_params(axis="x", direction="out", length=10.8, width=1.4, color=TEAL,
                   pad=-6.5, labelsize=21, labelcolor="#222222")
    shift = mtransforms.ScaledTranslation(6 / DPI, 0, fig.dpi_scale_trans)
    for lbl in ax.get_xticklabels():
        lbl.set_horizontalalignment("left")
        lbl.set_transform(lbl.get_transform() + shift)

    # value label positions (close with arrow, moving average plain)
    yc, ym = ypx(c[-1]), ypx(ma[-1])
    if abs(ym - yc) < BOX_H:
        ym = yc + BOX_H if ym >= yc else yc - BOX_H

    # price ticks on the right; a label sitting under a value box is hidden by it
    ax.yaxis.tick_right()
    yticks = np.arange(np.ceil(ylo / 5) * 5, yhi - 0.5, 5)
    ax.set_yticks(yticks)
    ax.tick_params(axis="y", direction="out", length=7.2, width=1.4, color=TEAL,
                   pad=92.9, labelsize=21, labelcolor="#333333")
    for t, lbl in zip(yticks, ax.get_yticklabels()):
        lbl.set_horizontalalignment("right")
        if min(abs(ypx(t) - yc), abs(ypx(t) - ym)) < BOX_H / 2:
            lbl.set_visible(False)

    ax.grid(True, linestyle=(0, (1, 2)), color="#c8c8c8", linewidth=1.2)
    ax.set_axisbelow(True)
    for side in ("left", "top", "right"):
        ax.spines[side].set_visible(False)
    ax.spines["bottom"].set_color(TEAL)
    ax.spines["bottom"].set_linewidth(2.0)

    ohlc = f"Open: {o[-1]:.2f} | High: {hi[-1]:.2f} | Low: {lo[-1]:.2f} | Close: {c[-1]:.2f}"
    for line, dy in ((title, 30.2), (ohlc, 62.0)):
        ax.annotate(line, xy=(0, 1), xycoords="axes fraction",
                    xytext=(13 * 0.72, -dy * 0.72), textcoords="offset points",
                    fontsize=22.7, color="#222222", ha="left", va="baseline",
                    bbox=dict(facecolor="white", edgecolor="none", pad=3), zorder=10)

    # pane border on top
    border_color, border_w = (ORANGE, 3.0) if k == 0 else (TEAL, 1.6)
    fig.add_artist(Line2D([PLOT_LEFT / W, PANE_RIGHT / W], [1 - top / H] * 2,
                          color=border_color, linewidth=border_w, transform=fig.transFigure))

    renderer = fig.canvas.get_renderer()
    for value, yp, arrow in ((ma[-1], ym, False), (c[-1], yc, True)):
        txt = fig.text(2195 / W, 1 - (yp + 10.7) / H, f"{value:g}", color="white",
                       fontsize=21.5, ha="left", va="baseline", zorder=6)
        right = txt.get_window_extent(renderer).x1 + 5
        half = BOX_H / 2
        pts = [(2183, yp - half), (right, yp - half), (right, yp + half), (2183, yp + half)]
        if arrow:
            pts.append((2166, yp))
        fig.add_artist(Polygon([fig_xy(*p) for p in pts], closed=True, transform=fig.transFigure,
                               facecolor=BLUE, edgecolor="none", zorder=5))
    return ax


def main():
    sns.set_style("white")
    plt.rcParams["font.family"] = ["Liberation Sans", "DejaVu Sans"]

    fig = plt.figure(figsize=(W / DPI, H / DPI), dpi=DPI)
    fig.patch.set_facecolor("white")

    panels = [
        (TITLES[0], BANK_OPEN, BANK_HIGH, BANK_LOW, BANK_CLOSE, BANK_MA),
        (TITLES[1], BDS_OPEN, BDS_HIGH, BDS_LOW, BDS_CLOSE, BDS_MA),
        (TITLES[2], CK_OPEN, CK_HIGH, CK_LOW, CK_CLOSE, CK_MA),
        (TITLES[3], KCN_OPEN, KCN_HIGH, KCN_LOW, KCN_CLOSE, KCN_MA),
    ]
    for k, (title, o, hi, lo, c, ma) in enumerate(panels):
        draw_panel(fig, k, title, o, hi, lo, c, ma)

    # right edge of the price area runs the full height
    fig.add_artist(Line2D([PLOT_RIGHT / W] * 2, [1 - PANEL_TOPS[0] / H, 0],
                          color=TEAL, linewidth=1.7, transform=fig.transFigure, zorder=4))

    fig.savefig("out.png", dpi=DPI)


if __name__ == "__main__":
    main()
